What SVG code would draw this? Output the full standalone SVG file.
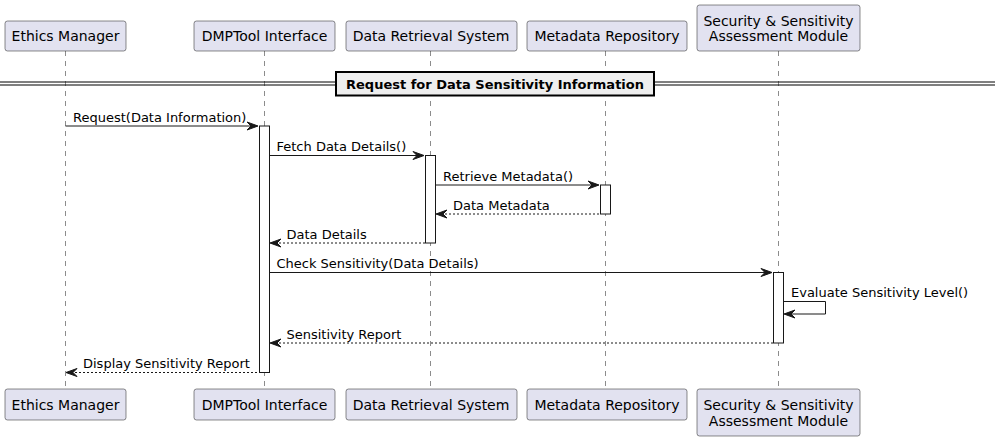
<svg xmlns="http://www.w3.org/2000/svg" width="995" height="441" viewBox="0 0 995 441">
<style>
text{font-family:"DejaVu Sans",sans-serif;font-size:13px;fill:#000}
.p rect{fill:#E2E2F0;stroke:#181818;stroke-width:0.5}
.p text{font-size:14px}
.life{stroke:#181818;stroke-width:0.5;stroke-dasharray:5,5}
.act{fill:#fff;stroke:#181818;stroke-width:1}
.m{stroke:#181818;stroke-width:1;fill:none}
.r{stroke:#181818;stroke-width:1;fill:none;stroke-dasharray:2,2}
.ah{fill:#181818;stroke:#181818;stroke-width:1}
.c{text-anchor:middle}
</style>
<g id="lifelines">
<line class="life" x1="65.5" y1="51" x2="65.5" y2="389"/>
<line class="life" x1="264.5" y1="51" x2="264.5" y2="389"/>
<line class="life" x1="430.5" y1="51" x2="430.5" y2="389"/>
<line class="life" x1="605.5" y1="51" x2="605.5" y2="389"/>
<line class="life" x1="778.5" y1="51" x2="778.5" y2="389"/>
</g>
<g id="ethics" class="p">
<rect x="5" y="21" width="121" height="30" rx="2.5"/>
<text class="c" x="65.5" y="41">Ethics Manager</text>
<rect x="5" y="389" width="121" height="31" rx="2.5"/>
<text class="c" x="65.5" y="410">Ethics Manager</text>
</g>
<g id="dmptool" class="p">
<rect x="194" y="21" width="141" height="30" rx="2.5"/>
<text class="c" x="264.5" y="41">DMPTool Interface</text>
<rect x="194" y="389" width="141" height="31" rx="2.5"/>
<text class="c" x="264.5" y="410">DMPTool Interface</text>
</g>
<g id="drs" class="p">
<rect x="346" y="21" width="171" height="30" rx="2.5"/>
<text class="c" x="431" y="41">Data Retrieval System</text>
<rect x="346" y="389" width="171" height="31" rx="2.5"/>
<text class="c" x="431" y="410">Data Retrieval System</text>
</g>
<g id="metadata" class="p">
<rect x="527" y="21" width="160" height="30" rx="2.5"/>
<text class="c" x="607" y="41">Metadata Repository</text>
<rect x="527" y="389" width="160" height="31" rx="2.5"/>
<text class="c" x="607" y="410">Metadata Repository</text>
</g>
<g id="security" class="p">
<rect x="697" y="5" width="163" height="46" rx="2.5"/>
<text class="c" x="778.5" y="26">Security &amp; Sensitivity</text>
<text class="c" x="778.5" y="41">Assessment Module</text>
<rect x="697" y="389" width="163" height="47" rx="2.5"/>
<text class="c" x="778.5" y="410">Security &amp; Sensitivity</text>
<text class="c" x="778.5" y="425.5">Assessment Module</text>
</g>
<g id="divider">
<line x1="0" y1="82" x2="995" y2="82" stroke="#000" stroke-width="1"/>
<line x1="0" y1="85" x2="995" y2="85" stroke="#000" stroke-width="1"/>
<rect x="336" y="72" width="318" height="23.5" fill="#EEEEEE" stroke="#000" stroke-width="2"/>
<text class="c" x="495" y="88.5" font-weight="bold">Request for Data Sensitivity Information</text>
</g>
<g id="activations">
<rect class="act" x="259.5" y="126" width="10" height="246.5"/>
<rect class="act" x="425.5" y="155.5" width="10" height="87.5"/>
<rect class="act" x="600.5" y="185" width="10" height="29"/>
<rect class="act" x="773.5" y="272.5" width="10" height="70.5"/>
</g>
<g id="connectors">
<line class="m" x1="65.5" y1="126" x2="257" y2="126"/>
<polygon class="ah" points="247,122 258,126 247,130 251,126"/>
<text x="73" y="121.5">Request(Data Information)</text>

<line class="m" x1="269.5" y1="155.5" x2="423" y2="155.5"/>
<polygon class="ah" points="413,151.5 424,155.5 413,159.5 417,155.5"/>
<text x="276.5" y="151">Fetch Data Details()</text>

<line class="m" x1="435.5" y1="185" x2="598" y2="185"/>
<polygon class="ah" points="588,181 599,185 588,189 592,185"/>
<text x="443" y="180.5">Retrieve Metadata()</text>

<line class="r" x1="437" y1="214" x2="600.5" y2="214"/>
<polygon class="ah" points="447,210 436,214 447,218 443,214"/>
<text x="453" y="209.5">Data Metadata</text>

<line class="r" x1="271" y1="243" x2="425.5" y2="243"/>
<polygon class="ah" points="281,239 270,243 281,247 277,243"/>
<text x="286.5" y="238.5">Data Details</text>

<line class="m" x1="269.5" y1="272.5" x2="771" y2="272.5"/>
<polygon class="ah" points="761,268.5 772,272.5 761,276.5 765,272.5"/>
<text x="276.5" y="268">Check Sensitivity(Data Details)</text>

<polyline class="m" points="783.5,301.5 825.5,301.5 825.5,314 785,314"/>
<polygon class="ah" points="795,310 784,314 795,318 791,314"/>
<text x="791" y="297">Evaluate Sensitivity Level()</text>

<line class="r" x1="271" y1="343" x2="773.5" y2="343"/>
<polygon class="ah" points="281,339 270,343 281,347 277,343"/>
<text x="286.5" y="338.5">Sensitivity Report</text>

<line class="r" x1="67" y1="372.5" x2="259.5" y2="372.5"/>
<polygon class="ah" points="77,368.5 66,372.5 77,376.5 73,372.5"/>
<text x="83" y="368">Display Sensitivity Report</text>
</g>
</svg>
